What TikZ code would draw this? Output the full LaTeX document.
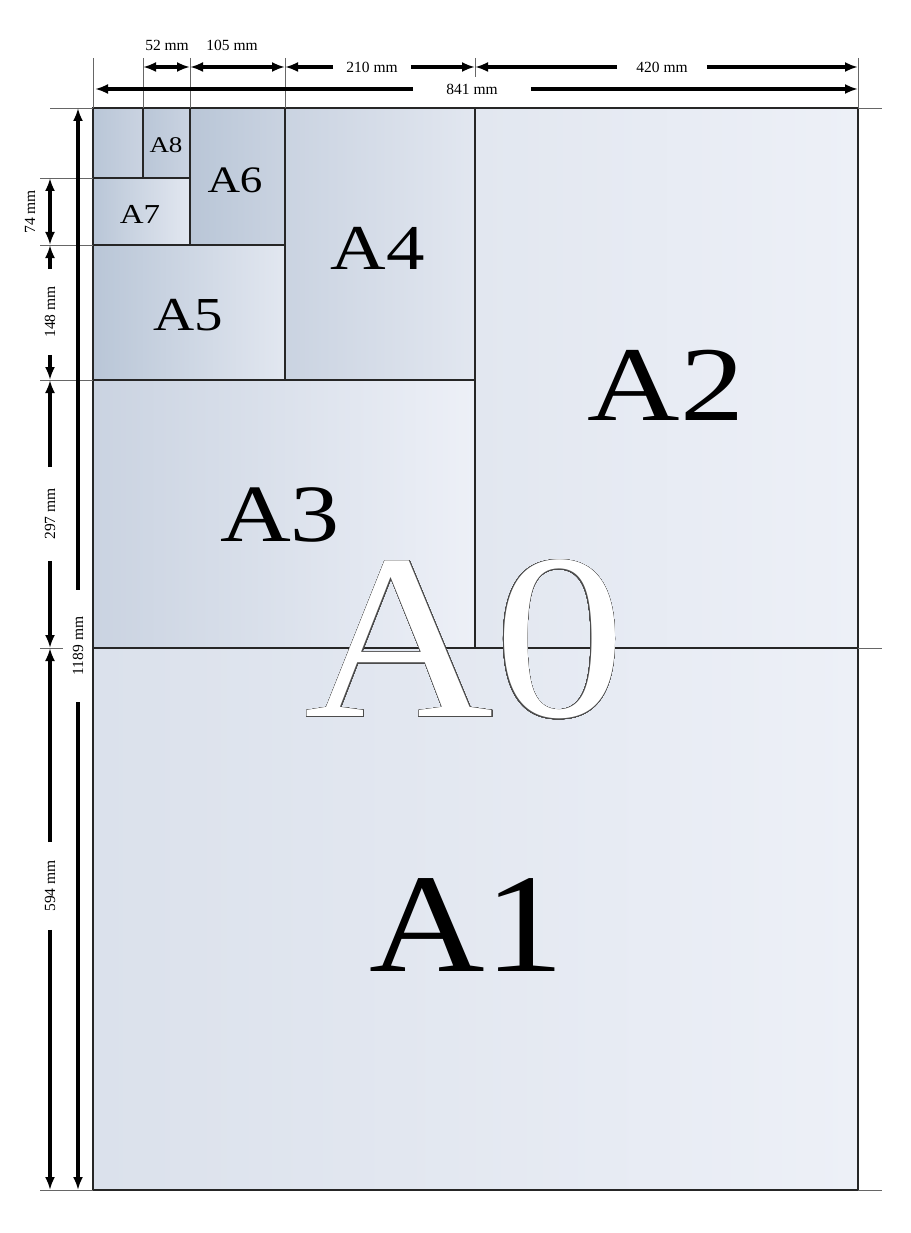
\documentclass[tikz,border=0pt]{standalone}
\usepackage{fontspec}
\setmainfont{Liberation Serif}
\usepackage{graphicx}
\usepackage{contour}
\usetikzlibrary{arrows.meta}

\contourlength{0.6pt}
\contournumber{48}
\newcommand{\squashtext}[2][0.83]{\scalebox{1}[#1]{#2}}

\definecolor{paperdark}{HTML}{B9C6D7}
\definecolor{papermid}{HTML}{CAD3E1}
\definecolor{paperlight}{HTML}{E2E7F0}
\definecolor{paperpale}{HTML}{EDF0F7}

\begin{document}
\begin{tikzpicture}[x=1pt, y=-1pt,
	sheet/.style={draw=black!85, line width=1.1pt},
	ext/.style={draw=black!60, line width=0.8pt},
	dim/.style={line width=3.2pt, {Latex[length=13pt,width=10pt]}-{Latex[length=13pt,width=10pt]}},
	half/.style={line width=3.2pt, -{Latex[length=13pt,width=10pt]}},
	mm/.style={font=\fontsize{15.5}{15.5}\selectfont, inner sep=0pt},
	gap/.style={mm, inner xsep=#1},
	big/.style={inner sep=0pt, font=\fontsize{#1}{#1}\selectfont}]
	\useasboundingbox (0,0) rectangle (910,1233);

	% the sheets, largest first
	\shadedraw[sheet, left color=paperlight!70!papermid, right color=paperpale] (93,648) rectangle (858,1190);
	\shadedraw[sheet, left color=paperlight, right color=paperpale] (475,108) rectangle (858,648);
	\shadedraw[sheet, left color=papermid, right color=paperpale] (93,380) rectangle (475,648);
	\shadedraw[sheet, left color=papermid, right color=paperlight] (285,108) rectangle (475,380);
	\shadedraw[sheet, left color=paperdark, right color=paperlight] (93,245) rectangle (285,380);
	\shadedraw[sheet, left color=paperdark, right color=papermid] (190,108) rectangle (285,245);
	\shadedraw[sheet, left color=paperdark, right color=paperlight] (93,178) rectangle (190,245);
	\shadedraw[sheet, left color=paperdark, right color=papermid] (143,108) rectangle (190,178);
	\shadedraw[sheet, left color=paperdark, right color=papermid] (93,108) rectangle (143,178);

	% sheet names
	\node[big=27] (a8) at (166,145) {\squashtext{A8}};
	\node[big=33] (a7) at (140,214) {\squashtext{A7}};
	\node[big=45] (a6) at (235,180) {\squashtext{A6}};
	\node[big=57] (a5) at (188,315) {\squashtext{A5}};
	\node[big=77] (a4) at (378,248) {\squashtext{A4}};
	\node[big=98] (a3) at (280,515) {\squashtext{A3}};
	\node[big=128] (a2) at (666,385) {\squashtext{A2}};
	\node[big=160] (a1) at (467,925) {\squashtext[0.88]{A1}};
	\node[big=262, text=white] (a0) at (465,640) {\squashtext[0.9]{\contour{black!70}{A0}}};

	% extension lines
	\foreach \x in {93,143,190,285,858}
		\draw[ext] (\x,58) -- (\x,108);
	\draw[ext] (475,58) -- (475,77);
	\foreach \y in {178,245,380,1190}
		\draw[ext] (40,\y) -- (93,\y);
	\draw[ext] (50,108) -- (93,108);
	\draw[ext] (40,648) -- (63,648);
	\foreach \y in {108,648,1190}
		\draw[ext] (858,\y) -- (882,\y);

	% end points of the dimension lines
	\coordinate (t8) at (143,67);
	\coordinate (t6) at (190,67);
	\coordinate (t4) at (285,67);
	\coordinate (t2) at (475,67);
	\coordinate (tR) at (858,67);
	\coordinate (u0) at (95,89);
	\coordinate (uR) at (858,89);
	\coordinate (s7) at (50,178);
	\coordinate (s5) at (50,245);
	\coordinate (s3) at (50,380);
	\coordinate (s1) at (50,648);
	\coordinate (sB) at (50,1190);
	\coordinate (v0) at (78,108);
	\coordinate (vB) at (78,1190);

	% widths
	\draw[dim] (t8) -- (t6);
	\draw[dim] (t6) -- (t4);
	\node[mm] (w52) at (167,45) {52 mm};
	\node[mm] (w105) at (232,45) {105 mm};
	\node[gap=13pt] (w210) at (372,67) {210 mm};
	\draw[half] (w210) -- (t4);
	\draw[half] (w210) -- (t2);
	\node[gap=19pt] (w420) at (662,67) {420 mm};
	\draw[half] (w420) -- (t2);
	\draw[half] (w420) -- (tR);
	\node[gap=33pt] (w841) at (472,89) {841 mm};
	\draw[half] (w841) -- (u0);
	\draw[half] (w841) -- (uR);

	% heights
	\draw[dim] (s7) -- (s5);
	\node[mm, rotate=90] (h74) at (30,212) {74 mm};
	\node[gap=17pt, rotate=90] (h148) at (50,312) {148 mm};
	\draw[half] (h148) -- (s5);
	\draw[half] (h148) -- (s3);
	\node[gap=21pt, rotate=90] (h297) at (50,514) {297 mm};
	\draw[half] (h297) -- (s3);
	\draw[half] (h297) -- (s1);
	\node[gap=18pt, rotate=90] (h594) at (50,886) {594 mm};
	\draw[half] (h594) -- (s1);
	\draw[half] (h594) -- (sB);
	\node[gap=27pt, rotate=90] (h1189) at (78,646) {1189 mm};
	\draw[half] (h1189) -- (v0);
	\draw[half] (h1189) -- (vB);
\end{tikzpicture}
\end{document}
